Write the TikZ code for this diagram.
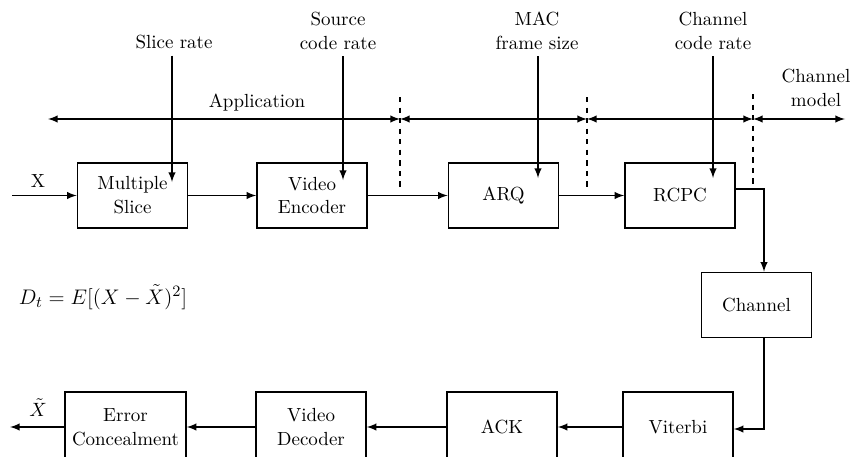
\documentclass[tikz,border=0pt]{standalone}
\usepackage{tikz}
\usepackage{amsmath}
\usepackage{amssymb}
\usepackage{xcolor}

\begin{document}
\begin{tikzpicture}[x=0.02cm,y=-0.02cm,line width=0.9pt,>=latex,
        font=\fontsize{10.8}{13.6}\selectfont,
        block/.style={draw,minimum width=2.2cm,minimum height=1.3cm,align=center,inner sep=1pt},
        layer/.style={<->},
        border/.style={dashed}]
            \useasboundingbox (0,0) rectangle (854,456);
            % blocks
            \node (ms) at (132.5,195.5) [block] {Multiple\\Slice};
            \node (venc) at (312,195.5) [block] {Video\\Encoder};
            \node (arq) at (503.5,195.5) [block] {ARQ};
            \node (rcpc) at (680,195.5) [block] {RCPC};
            \node (chan) at (756.5,305) [block] {Channel};
            \node (vit) at (678,427) [block,minimum height=1.4cm] {Viterbi};
            \node (ack) at (502,427) [block,minimum height=1.4cm] {ACK};
            \node (vdec) at (311,427) [block,minimum height=1.4cm] {Video\\Decoder};
            \node (ec) at (125.5,427) [block,minimum height=1.4cm,minimum width=2.42cm] {Error\\Concealment};
            % parameters
            \node (slr) at (174,42) {Slice rate};
            \node (scr) at (338,31) [align=center] {Source\\code rate};
            \node (mac) at (537,31) [align=center] {MAC\\frame size};
            \node (ccr) at (713,31) [align=center] {Channel\\code rate};
            \coordinate (slr-in) at (172,182);
            \coordinate (scr-in) at (343,180);
            \coordinate (mac-in) at (538,178);
            \coordinate (ccr-in) at (713,178);
            \draw[->] (slr-in |- slr.south) -- (slr-in);
            \draw[->] (scr-in |- scr.south) -- (scr-in);
            \draw[->] (mac-in |- mac.south) -- (mac-in);
            \draw[->] (ccr-in |- ccr.south) -- (ccr-in);
            % layers
            \coordinate (lay0) at (48,119);
            \coordinate (lay1) at (400,119);
            \coordinate (lay2) at (587,119);
            \coordinate (lay3) at (753,119);
            \coordinate (lay4) at (845,119);
            \draw[layer] (lay0) -- (lay1);
            \draw[layer] (lay1) -- (lay2);
            \draw[layer] (lay2) -- (lay3);
            \draw[layer] (lay3) -- (lay4);
            \draw[border] (lay1 |- 0,97) -- (lay1 |- 0,188);
            \draw[border] (lay2 |- 0,97) -- (lay2 |- 0,190);
            \draw[border] (lay3 |- 0,94) -- (lay3 |- 0,188);
            \node (app) at (257,103) {Application};
            \node (chm) at (816,88) [align=center] {Channel\\model};
            % signal path
            \coordinate (xin) at (12,195.5);
            \coordinate (xout) at (10,427);
            \coordinate (rc) at (764,189);
            \coordinate (vc) at (764,429);
            \node (xlab) at (38,181) {X};
            \node (xhat) at (38,408) {$\tilde{X}$};
            \draw[->] (xin) -- (ms);
            \draw[->] (ms) -- (venc);
            \draw[->] (venc) -- (arq);
            \draw[->] (arq) -- (rcpc);
            \draw[->] (rcpc.east |- rc) -- (rc) -- (rc |- chan.north);
            \draw[->] (chan.south -| vc) -- (vc) -- (vc -| vit.east);
            \draw[->] (vit) -- (ack);
            \draw[->] (ack) -- (vdec);
            \draw[->] (vdec) -- (ec);
            \draw[->] (ec) -- (xout);
            \node (dist) at (103,297) [font=\fontsize{12.6}{15}\selectfont] {$D_t = E[(X-\tilde{X})^2]$};
        \end{tikzpicture}
\end{document}
